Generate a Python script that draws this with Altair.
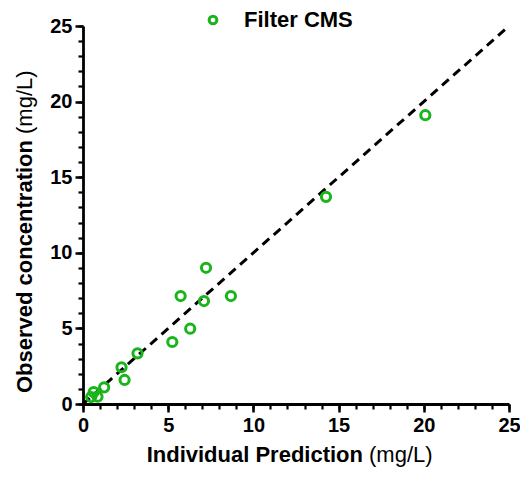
import altair as alt
import pandas as pd

# Data
pred = [0.48, 0.63, 0.85, 1.24, 2.26, 2.44, 3.20, 5.24, 5.73, 6.29, 7.10, 7.22, 8.68, 14.26, 20.09]
obs = [0.46, 0.79, 0.48, 1.10, 2.43, 1.59, 3.35, 4.10, 7.14, 4.98, 6.81, 9.01, 7.14, 13.70, 19.10]
series = ["Filter CMS"] * len(pred)
identity = [0, 25]
major_ticks = [0, 5, 10, 15, 20, 25]
minor_ticks = list(range(0, 26))

FONT = "Liberation Sans"
GREEN = "#1ab51a"

df = pd.DataFrame({"pred": pred, "obs": obs, "series": series})
line_df = pd.DataFrame({"x": identity, "y": identity})


def major_axis(orient):
    return alt.Axis(
        orient=orient,
        title=None,
        values=major_ticks,
        labelOverlap=False,
        labelFlush=False,
        labelFont=FONT,
        labelFontSize=20,
        labelFontWeight="bold",
        labelColor="black",
        labelPadding=3,
        domainColor="black",
        domainWidth=2.8,
        tickColor="black",
        tickWidth=2.5,
        tickSize=8,
        grid=False,
    )


def minor_axis(orient):
    return alt.Axis(
        orient=orient,
        title=None,
        values=minor_ticks,
        labels=False,
        domain=False,
        tickColor="black",
        tickWidth=2.2,
        tickSize=5,
        grid=False,
    )


xscale = alt.Scale(domain=[0, 25], nice=False)
yscale = alt.Scale(domain=[0, 25], nice=False)

line = alt.Chart(line_df).mark_line(
    color="black", strokeWidth=3, strokeDash=[9, 6]
).encode(
    x=alt.X("x:Q", scale=xscale, axis=major_axis("bottom")),
    y=alt.Y("y:Q", scale=yscale, axis=major_axis("left")),
)

points = alt.Chart(df).mark_point(
    shape="circle", filled=False, strokeWidth=3, size=85, opacity=1
).encode(
    x=alt.X("pred:Q", scale=xscale, axis=minor_axis("bottom")),
    y=alt.Y("obs:Q", scale=yscale, axis=minor_axis("left")),
    color=alt.Color(
        "series:N",
        scale=alt.Scale(domain=["Filter CMS"], range=[GREEN]),
        legend=alt.Legend(
            orient="none",
            legendX=119,
            legendY=-17,
            title=None,
            padding=0,
            labelFont=FONT,
            labelFontSize=22,
            labelFontWeight="bold",
            labelColor="black",
            labelOffset=20,
            symbolType="circle",
            symbolSize=60,
            symbolStrokeWidth=3,
        ),
    ),
)

# Axis titles with mixed weights
xt_bold = alt.Chart(pd.DataFrame({"t": ["Individual Prediction"]})).mark_text(
    font=FONT, fontSize=22, fontWeight="bold", align="right", baseline="alphabetic", color="black"
).encode(text="t:N", x=alt.value(280), y=alt.value(436))
xt_norm = alt.Chart(pd.DataFrame({"t": ["(mg/L)"]})).mark_text(
    font=FONT, fontSize=22, fontWeight="normal", align="left", baseline="alphabetic", color="black"
).encode(text="t:N", x=alt.value(286), y=alt.value(436))

yt_bold = alt.Chart(pd.DataFrame({"t": ["Observed concentration"]})).mark_text(
    font=FONT, fontSize=22, fontWeight="bold", align="right", baseline="alphabetic", angle=270, color="black"
).encode(text="t:N", x=alt.value(-51.5), y=alt.value(114))
yt_norm = alt.Chart(pd.DataFrame({"t": ["(mg/L)"]})).mark_text(
    font=FONT, fontSize=22, fontWeight="normal", align="left", baseline="alphabetic", angle=270, color="black"
).encode(text="t:N", x=alt.value(-51.5), y=alt.value(108))

chart = alt.layer(line, points, xt_bold, xt_norm, yt_bold, yt_norm).resolve_axis(
    x="independent", y="independent"
).properties(
    width=426,
    height=378,
    autosize=alt.AutoSizeParams(type="none"),
    padding={"left": 75, "top": 18, "right": 11, "bottom": 65},
).configure_view(stroke=None)

chart.save("out.html", embed_options={"renderer": "svg", "actions": False})
